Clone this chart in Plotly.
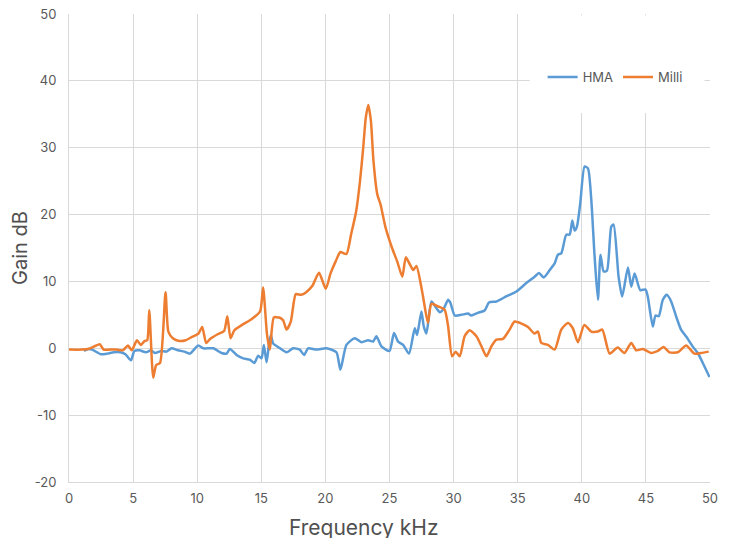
import plotly.graph_objects as go

# Milli (orange) series
milli_freq = [0, 1.0, 1.5, 2.0, 2.4, 2.7, 3.2, 3.7, 4.2, 4.6, 4.9, 5.3, 5.6, 5.9, 6.1, 6.26, 6.57, 6.8, 7.1,
              7.53, 7.75, 8.1, 8.6, 9.1, 9.6, 10.1, 10.39, 10.7, 11.0, 11.6, 12.1, 12.35, 12.6, 12.9, 13.5,
              14.2, 14.9, 15.14, 15.45, 15.67, 15.98, 16.4, 16.7, 16.97, 17.3, 17.69, 18.1, 18.5, 19.0, 19.5,
              20.03, 20.4, 20.8, 21.17, 21.64, 22.0, 22.4, 22.7, 22.95, 23.15, 23.35, 23.55, 23.75, 24.05,
              24.3, 24.7, 25.2, 25.6, 26.0, 26.27, 26.6, 26.85, 27.1, 27.57, 28.0, 28.27, 28.8, 29.3, 29.57,
              29.88, 30.16, 30.48, 30.86, 31.25, 31.78, 32.17, 32.56, 32.95, 33.34, 33.85, 34.37, 34.76,
              35.3, 35.8, 36.3, 36.58, 36.84, 37.36, 37.88, 38.4, 38.92, 39.3, 39.7, 40.2, 40.74, 41.25,
              41.6, 42.17, 42.8, 43.33, 43.86, 44.25, 44.76, 45.4, 45.93, 46.37, 46.84, 47.5, 48.14, 48.79,
              49.3, 49.9]
milli_gain = [-0.2, -0.2, -0.1, 0.3, 0.6, -0.2, -0.2, -0.2, -0.3, 0.4, -0.3, 1.2, 0.5, 1.1, 1.2, 5.7, -4.4, -2.5, -2.2,
              8.4, 2.5, 1.5, 1.1, 1.2, 1.7, 2.2, 3.2, 0.8, 1.4, 2.1, 2.6, 4.8, 1.5, 2.7, 3.5,
              4.3, 5.5, 9.1, 2.0, -0.2, 4.6, 4.6, 4.2, 2.8, 4.0, 8.1, 8.0, 8.4, 9.4, 11.3,
              8.9, 11.2, 13.0, 14.4, 14.1, 17.0, 20.5, 25.0, 30.0, 34.5, 36.4, 34.0, 28.0, 23.0,
              21.5, 18.0, 15.0, 13.0, 10.7, 13.6, 12.5, 11.7, 12.3, 8.25, 3.8, 6.65, 6.25, 5.75, 3.3,
              -1.2, -0.5, -1.2, 1.8, 2.7, 1.8, 0.3, -1.2, 0.3, 1.3, 1.4, 2.8, 4.0,
              3.7, 3.2, 2.2, 2.5, 0.8, 0.5, -0.2, 2.8, 3.8, 3.0, 0.9, 3.5, 2.5, 2.5,
              2.8, -0.8, 0.1, -0.7, 0.8, -0.3, -0.1, -0.7, -0.4, 0.2, -0.6, -0.6, 0.4, -0.8,
              -0.7, -0.5]

# HMA (blue) series
hma_freq = [1.17, 1.5, 1.8, 2.5, 3.0, 3.5, 4.0, 4.4, 4.83, 5.1, 5.5, 6.0, 6.4, 6.7, 7.2, 7.6, 8.0, 8.5, 9.0,
            9.43, 10.08, 10.47, 11.25, 11.9, 12.29, 12.55, 13.07, 13.59, 14.1, 14.45, 14.76, 15.02, 15.2,
            15.41, 15.59, 15.74, 15.93, 16.31, 16.97, 17.48, 18.0, 18.34, 18.65, 19.3, 20.08, 20.86, 21.17,
            21.64, 22.29, 22.81, 23.33, 23.72, 23.98, 24.37, 25.0, 25.35, 25.67, 26.06, 26.52, 26.97, 27.15,
            27.49, 27.67, 27.88, 28.27, 28.66, 28.92, 29.25, 29.57, 29.75, 30.09, 30.61, 31.12, 31.38, 31.9,
            32.42, 32.76, 33.34, 34.1, 34.9, 35.67, 36.32, 36.66, 37.02, 37.5, 37.88, 38.14, 38.4, 38.79,
            39.05, 39.26, 39.44, 39.62, 39.88, 40.22, 40.48, 40.74, 41.0, 41.26, 41.46, 41.7, 41.96, 42.3,
            42.48, 42.87, 43.15, 43.6, 43.86, 44.12, 44.56, 44.97, 45.15, 45.54, 45.75, 46.0, 46.32, 46.63,
            46.97, 47.36, 47.75, 48.14, 48.66, 49.05, 49.44, 49.96]
hma_gain = [-0.4, -0.1, -0.2, -0.9, -0.8, -0.6, -0.6, -0.9, -1.8, -0.4, -0.3, -0.6, -0.3, -0.7, -0.4, -0.5, 0.0, -0.3, -0.5,
            -0.8, 0.4, 0.0, 0.0, -0.7, -0.8, -0.1, -1.0, -1.5, -1.7, -2.2, -1.1, -1.5, 0.5,
            -2.1, 0.5, 2.0, 0.7, 0.2, -0.6, 0.0, -0.2, -1.0, 0.0, -0.2, 0.0, -0.6, -3.2,
            0.5, 1.5, 0.9, 1.2, 1.0, 1.8, 0.3, -0.4, 2.3, 1.0, 0.5, -0.8, 3.0, 2.0,
            5.5, 3.3, 2.2, 7.0, 6.0, 5.4, 6.0, 7.25, 6.8, 4.9, 5.0, 5.2, 4.9, 5.3,
            5.65, 6.85, 7.0, 7.75, 8.5, 9.75, 10.7, 11.25, 10.6, 11.7, 12.7, 14.0, 14.2, 17.0,
            17.0, 19.1, 17.6, 18.2, 21.7, 27.2, 26.9, 22.2, 13.7, 7.25, 14.0, 11.5, 11.6, 18.2,
            18.5, 10.7, 7.75, 12.1, 9.2, 11.2, 8.7, 8.8, 7.7, 3.25, 4.9, 4.8, 7.25, 8.0,
            7.0, 4.75, 2.75, 1.75, 0.25, -0.7, -2.2, -4.3]

x_ticks = [0, 5, 10, 15, 20, 25, 30, 35, 40, 45, 50]
y_ticks = [-20, -10, 0, 10, 20, 30, 40, 50]
y_tick_labels = ["-20", "-10", "0", "10", "20", "30", "40", "50"]

FONT = "Inter, Roboto, sans-serif"

# The page body adds an 8px offset, so the figure is drawn 8px in from the top-left.
W, H = 724, 530
L, R, T, B = 61, 21.5, 6, 56
PW = W - L - R
PH = H - T - B

fig = go.Figure()
fig.add_trace(go.Scatter(x=hma_freq, y=hma_gain, name="HMA", mode="lines",
                         line=dict(color="#5B9BD5", width=2.5, shape="spline", smoothing=0.6)))
fig.add_trace(go.Scatter(x=milli_freq, y=milli_gain, name="Milli", mode="lines",
                         line=dict(color="#ED7D31", width=2.5, shape="spline", smoothing=0.6)))

# white legend backdrop hiding gridlines
fig.add_shape(type="rect", xref="paper", yref="paper",
              x0=(530 - 69) / PW, x1=(705 - 69) / PW,
              y0=(482 - 113) / PH, y1=(482 - 15.5) / PH,
              fillcolor="white", line=dict(width=0), layer="above")

# x-axis title (centered slightly left of the plot centre, as in the reference)
fig.add_annotation(text="Frequency kHz", xref="paper", yref="paper",
                   x=(364 - 69) / PW, y=(482 - 527) / PH, xanchor="center", yanchor="middle",
                   showarrow=False, font=dict(family=FONT, size=21, color="#505050"))

fig.update_layout(
    width=W, height=H,
    margin=dict(l=L, r=R, t=T, b=B, autoexpand=False),
    paper_bgcolor="white", plot_bgcolor="white",
    font=dict(family=FONT, color="#595959", size=13),
    showlegend=True,
    legend=dict(orientation="h", x=(543 - 69) / PW, xanchor="left", y=(482 - 77) / PH, yanchor="middle",
                bgcolor="rgba(0,0,0,0)", font=dict(size=13, color="#595959"),
                itemwidth=30, tracegroupgap=0),
    xaxis=dict(range=[0, 50], tickvals=x_ticks, showgrid=True, gridcolor="#D9D9D9", gridwidth=1,
               zeroline=False, showline=True, linecolor="#D9D9D9", linewidth=1, automargin=False,
               ticks="", ticklabelstandoff=4, ticklabeloverflow="allow",
               tickfont=dict(size=13, color="#595959")),
    yaxis=dict(range=[-20, 50], tickvals=y_ticks, ticktext=y_tick_labels, showgrid=True,
               gridcolor="#D9D9D9", gridwidth=1,
               zeroline=False, showline=True, linecolor="#D9D9D9", linewidth=1, automargin=False,
               ticks="", ticklabelstandoff=9, ticklabeloverflow="allow",
               tickfont=dict(size=13, color="#595959"),
               title=dict(text="Gain dB", font=dict(size=20, color="#505050"), standoff=3)),
)

fig.write_html("out.html")
